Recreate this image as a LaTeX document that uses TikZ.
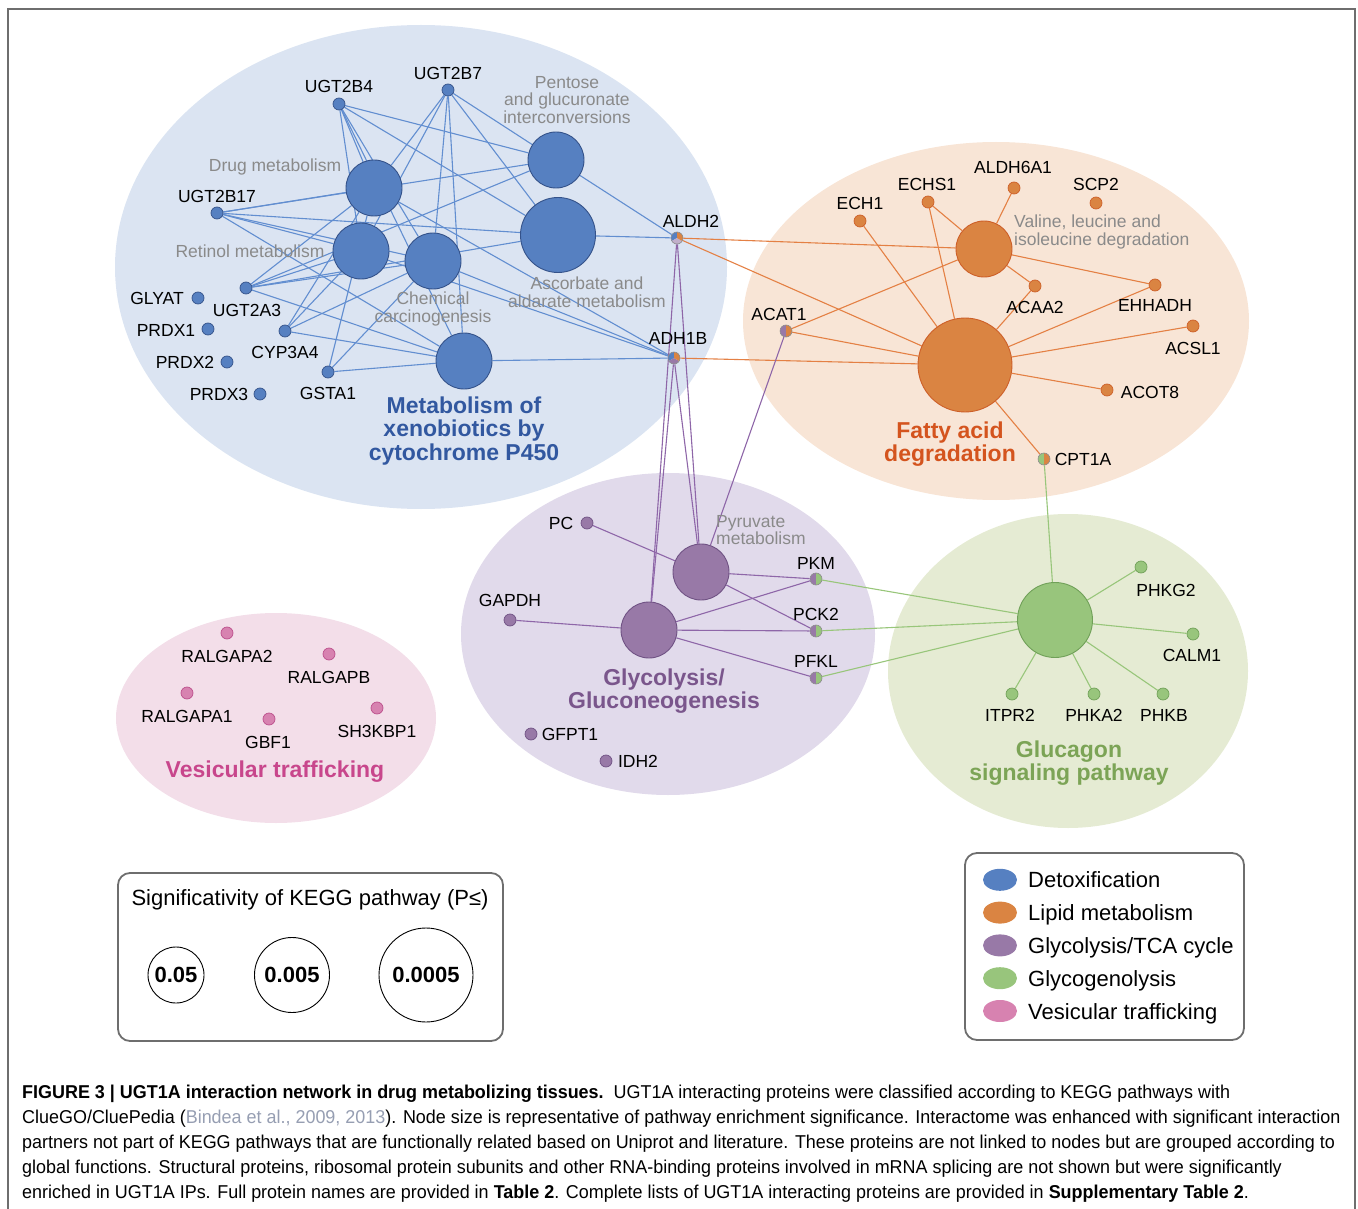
\documentclass[tikz,border=0pt]{standalone}
\usepackage{fontspec}
\setmainfont{Liberation Sans}
\newfontfamily\capfont[FakeStretch=0.965]{Liberation Sans}
\usepackage{tikz}
\usetikzlibrary{shapes.geometric,positioning}
\usepackage{xcolor}
\definecolor{bgBlue}{RGB}{219,228,242}
\definecolor{bgOrange}{RGB}{248,229,214}
\definecolor{bgPurple}{RGB}{225,218,235}
\definecolor{bgGreen}{RGB}{229,235,211}
\definecolor{bgPink}{RGB}{243,222,233}
\definecolor{nBlue}{RGB}{86,128,193}
\definecolor{nBlueD}{RGB}{52,82,138}
\definecolor{nOrange}{RGB}{218,132,66}
\definecolor{nOrangeD}{RGB}{205,95,40}
\definecolor{nPurple}{RGB}{152,121,167}
\definecolor{nPurpleD}{RGB}{112,82,132}
\definecolor{nGreen}{RGB}{152,197,124}
\definecolor{nGreenD}{RGB}{112,160,88}
\definecolor{nPink}{RGB}{215,130,176}
\definecolor{nPinkD}{RGB}{188,80,140}
\definecolor{eBlue}{RGB}{98,142,208}
\definecolor{eOrange}{RGB}{228,128,68}
\definecolor{ePurple}{RGB}{142,102,168}
\definecolor{eGreen}{RGB}{152,198,122}
\definecolor{tGray}{RGB}{138,138,138}
\definecolor{tBlue}{RGB}{50,88,160}
\definecolor{tOrange}{RGB}{212,84,30}
\definecolor{tPurple}{RGB}{122,86,140}
\definecolor{tGreen}{RGB}{124,164,86}
\definecolor{tPink}{RGB}{200,70,140}
\definecolor{cLink}{RGB}{150,158,178}
\definecolor{cFrame}{RGB}{110,110,110}

\newcommand\lblfont{\fontsize{17.5}{17.5}\selectfont}
\newcommand\ttlfont{\fontsize{23}{23.5}\selectfont\bfseries}
\newcommand\keyfont{\fontsize{22}{22}\selectfont}

\pgfdeclarelayer{areas}
\pgfdeclarelayer{links}
\pgfsetlayers{areas,links,main}

\tikzset{
  dot/.style={circle,inner sep=0pt,minimum size=12pt,line width=0.7pt},
  bdot/.style={dot,fill=nBlue,draw=nBlueD},
  odot/.style={dot,fill=nOrange,draw=nOrangeD},
  pdot/.style={dot,fill=nPurple,draw=nPurpleD},
  gdot/.style={dot,fill=nGreen,draw=nGreenD},
  kdot/.style={dot,fill=nPink,draw=nPinkD},
  hubS/.style={circle,inner sep=0pt,minimum size=56pt,line width=0.9pt},
  hubM/.style={hubS,minimum size=75pt},
  hubL/.style={hubS,minimum size=94pt},
  bhub/.style={fill=nBlue,draw=nBlueD},
  ohub/.style={fill=nOrange,draw=nOrangeD},
  phub/.style={fill=nPurple,draw=nPurpleD},
  ghub/.style={fill=nGreen,draw=nGreenD},
  lbl/.style={inner sep=0pt,font=\lblfont,text=black},
  pwlbl/.style={inner sep=0pt,font=\lblfont,text=tGray,align=center},
  grplbl/.style={inner sep=0pt,font=\ttlfont,align=center},
  bedge/.style={draw=eBlue,line width=1.1pt},
  oedge/.style={draw=eOrange,line width=1.1pt},
  pedge/.style={draw=ePurple,line width=1.1pt},
  gedge/.style={draw=eGreen,line width=1.1pt},
  keybox/.style={draw=cFrame,line width=1.8pt,rounded corners=12pt},
  sigcirc/.style={circle,draw=black,line width=0.9pt,inner sep=0pt,
                  font=\keyfont\bfseries},
  keydot/.style={ellipse,inner sep=0pt,minimum width=34pt,minimum height=22pt},
  keytxt/.style={anchor=base west,inner sep=0pt,font=\keyfont}
}

% split dots shared by two or three pathways
\newcommand\halfdot[3]{%
  \fill[#2] (#1.center) -- ++(90:6pt) arc[start angle=90,end angle=270,radius=6pt] -- cycle;
  \fill[#3] (#1.center) -- ++(-90:6pt) arc[start angle=-90,end angle=90,radius=6pt] -- cycle;
  \draw[black!45,line width=0.6pt] (#1.center) circle[radius=6pt];}
\newcommand\tridot[4]{%
  \fill[#2] (#1.center) -- ++(90:6pt) arc[start angle=90,end angle=210,radius=6pt] -- cycle;
  \fill[#3] (#1.center) -- ++(210:6pt) arc[start angle=210,end angle=330,radius=6pt] -- cycle;
  \fill[#4] (#1.center) -- ++(330:6pt) arc[start angle=330,end angle=450,radius=6pt] -- cycle;
  \draw[black!45,line width=0.6pt] (#1.center) circle[radius=6pt];}

\begin{document}
\begin{tikzpicture}[x=1pt,y=-1pt]
  \useasboundingbox (0,0) rectangle (1358,1209);
  \draw[cFrame,line width=2pt] (8,1230) -- (8,9) -- (1355,9) -- (1355,1230);

  \begin{pgfonlayer}{areas}
    \fill[bgBlue]   (421,267) ellipse[x radius=306,y radius=242];
    \fill[bgOrange] (996,321) ellipse[x radius=253,y radius=179];
    \fill[bgPurple] (668,634) ellipse[x radius=207,y radius=161];
    \fill[bgGreen]  (1068,671) ellipse[x radius=180,y radius=157];
    \fill[bgPink]   (276,718) ellipse[x radius=160,y radius=105];
  \end{pgfonlayer}

  % pathway hubs
  \node[hubS,bhub] (hd) at (374,188) {};
  \node[hubS,bhub] (hr) at (361,251) {};
  \node[hubS,bhub] (hc) at (433,261) {};
  \node[hubS,bhub] (hp) at (556,160) {};
  \node[hubM,bhub] (ha) at (558,235) {};
  \node[hubS,bhub] (hx) at (464,361) {};
  \node[hubS,ohub] (hv) at (984,249) {};
  \node[hubL,ohub] (hf) at (965,365) {};
  \node[hubS,phub] (hpy) at (701,572) {};
  \node[hubS,phub] (hg) at (649,630) {};
  \node[hubM,ghub] (hgl) at (1055,620) {};

  % proteins
  \foreach \n/\x/\y/\t/\lx/\ly in {u4/339/104/UGT2B4/339/86, u7/448/90/UGT2B7/448/73,
      u17/217/213/UGT2B17/217/196, ua3/246/288/UGT2A3/247/310,
      cyp/285/331/CYP3A4/285/352, gst/328/372/GSTA1/328/393,
      glyat/198/298/GLYAT/157/298, prdx1/208/329/PRDX1/166/330,
      prdx2/227/362/PRDX2/185/362, prdx3/260/394/PRDX3/219/394}
    \node[bdot] (\n) at (\x,\y) {} node[lbl] (t\n) at (\lx,\ly) {\t};
  \foreach \n/\x/\y/\t/\lx/\ly in {ech1/860/221/ECH1/860/203, echs1/928/202/ECHS1/927/184,
      aldh6/1014/188/ALDH6A1/1013/167, scp2/1096/203/SCP2/1096/184,
      acaa2/1035/286/ACAA2/1035/307, ehhadh/1155/285/EHHADH/1155/305,
      acsl1/1193/326/ACSL1/1193/348, acot8/1107/390/ACOT8/1150/392}
    \node[odot] (\n) at (\x,\y) {} node[lbl] (t\n) at (\lx,\ly) {\t};
  \foreach \n/\x/\y/\t/\lx/\ly in {pc/587/523/PC/561/523, gapdh/510/620/GAPDH/510/600,
      gfpt1/531/734/GFPT1/570/734, idh2/606/761/IDH2/638/761}
    \node[pdot] (\n) at (\x,\y) {} node[lbl] (t\n) at (\lx,\ly) {\t};
  \foreach \n/\x/\y/\t/\lx/\ly in {phkg2/1141/567/PHKG2/1166/590, calm1/1193/634/CALM1/1192/655,
      itpr2/1012/694/ITPR2/1010/715, phka2/1094/694/PHKA2/1094/715,
      phkb/1163/694/PHKB/1164/715}
    \node[gdot] (\n) at (\x,\y) {} node[lbl] (t\n) at (\lx,\ly) {\t};
  \foreach \n/\x/\y/\t/\lx/\ly in {ralgapa2/227/633/RALGAPA2/227/656,
      ralgapb/329/654/RALGAPB/329/677, ralgapa1/187/693/RALGAPA1/187/716,
      gbf1/269/719/GBF1/268/742, sh3kbp1/377/708/SH3KBP1/377/731}
    \node[kdot] (\n) at (\x,\y) {} node[lbl] (t\n) at (\lx,\ly) {\t};
  \foreach \n/\x/\y/\t/\lx/\ly in {aldh2/677/238/ALDH2/691/221, adh1b/674/358/ADH1B/678/338,
      acat1/786/331/ACAT1/779/314, cpt1a/1044/459/CPT1A/1083/459,
      pkm/816/579/PKM/816/563, pck2/816/631/PCK2/816/614, pfkl/816/678/PFKL/816/661}
    \node[dot] (\n) at (\x,\y) {} node[lbl] (t\n) at (\lx,\ly) {\t};

  \tridot{aldh2}{nBlue}{nPurple!60}{nOrange}
  \tridot{adh1b}{nBlue}{nPurple}{nOrange}
  \halfdot{acat1}{nPurple}{nOrange}
  \halfdot{cpt1a}{nGreen}{nOrange}
  \foreach \n in {pkm,pck2,pfkl}{
    \halfdot{\n}{nPurple}{nGreen}
  }

  \begin{pgfonlayer}{links}
    \foreach \f/\t in {u4/hd,u4/hr,u4/hc,u4/hp,u4/ha,u4/hx,u7/hd,u7/hr,u7/hc,u7/hp,u7/ha,u7/hx,
        u17/hd,u17/hr,u17/hc,u17/hp,u17/ha,u17/hx,ua3/hd,ua3/hr,ua3/hc,ua3/hp,ua3/ha,ua3/hx,
        cyp/hd,cyp/hr,cyp/hc,cyp/hx,gst/hd,gst/hc,gst/hx,aldh2/hp,aldh2/ha,
        adh1b/hd,adh1b/hr,adh1b/hc,adh1b/hx}
      \draw[bedge] (\f) -- (\t);
    \foreach \f/\t in {aldh2/hv,aldh2/hf,adh1b/hf,acat1/hv,acat1/hf,ech1/hf,echs1/hv,echs1/hf,
        aldh6/hv,acaa2/hv,acaa2/hf,ehhadh/hv,ehhadh/hf,acsl1/hf,acot8/hf,cpt1a/hf}
      \draw[oedge] (\f) -- (\t);
    \foreach \f/\t in {aldh2/hg,aldh2/hpy,adh1b/hg,adh1b/hpy,acat1/hpy,pc/hpy,hpy/pkm,hpy/pck2,
        gapdh/hg,hg/pkm,hg/pck2,hg/pfkl}
      \draw[pedge] (\f) -- (\t);
    \foreach \f/\t in {cpt1a/hgl,pkm/hgl,pck2/hgl,pfkl/hgl,hgl/phkg2,hgl/calm1,hgl/itpr2,
        hgl/phka2,hgl/phkb}
      \draw[gedge] (\f) -- (\t);
  \end{pgfonlayer}

  % pathway names
  \node[pwlbl] (ldrug) at (275,167) {Drug metabolism};
  \node[pwlbl] (lret) at (250,251) {Retinol metabolism};
  \node[pwlbl] (lchem) at (433,309) {Chemical\\carcinogenesis};
  \node[pwlbl] (lpent) at (567,100) {Pentose\\and glucuronate\\interconversions};
  \node[pwlbl] (lasc) at (587,292) {Ascorbate and\\aldarate metabolism};
  \node[pwlbl,align=left,anchor=west] (lval) at (1014,232) {Valine, leucine and\\isoleucine degradation};
  \node[pwlbl,align=left,anchor=west] (lpyr) at (716,530) {Pyruvate\\metabolism};

  \node[grplbl,text=tBlue] (gdetox) at (464,431) {Metabolism of\\xenobiotics by\\cytochrome P450};
  \node[grplbl,text=tOrange] (glipid) at (950,444) {Fatty acid\\degradation};
  \node[grplbl,text=tPurple] (gglyc) at (664,691) {Glycolysis/\\Gluconeogenesis};
  \node[grplbl,text=tGreen] (gglucg) at (1069,763) {Glucagon\\signaling pathway};
  \node[grplbl,text=tPink] (gvesic) at (275,772) {Vesicular trafficking};

  % significance key
  \draw[keybox] (118,873) rectangle (503,1041);
  \node[inner sep=0pt,font=\keyfont] (sigt) at (310,900) {Significativity of KEGG pathway (P≤)};
  \node[sigcirc,minimum size=56pt] (s1) at (176,975) {0.05};
  \node[sigcirc,minimum size=75pt] (s2) at (292,975) {0.005};
  \node[sigcirc,minimum size=94pt] (s3) at (426,975) {0.0005};

  % colour key
  \draw[keybox] (965,853) rectangle (1244,1040);
  \foreach \c/\t [count=\i] in {nBlue/Detoxification,nOrange/Lipid metabolism,
      nPurple/Glycolysis\slash TCA cycle,nGreen/Glycogenolysis,nPink/Vesicular trafficking}
    \node[keydot,fill=\c] (k\i) at (1000,847+\i*32.8) {}
      node[keytxt] (kt\i) at (1028,855+\i*32.8) {\t};

  % caption
  \node[anchor=north west,inner sep=0pt,align=left,
        font=\capfont\fontsize{18.6}{25}\selectfont] (cap) at (22,1085)
    {\textbf{FIGURE 3 | UGT1A interaction network in drug metabolizing tissues.}\ \ UGT1A interacting proteins were classified according to KEGG pathways with\\
     ClueGO/CluePedia ({\color{cLink}Bindea et al., 2009, 2013}). Node size is representative of pathway enrichment significance. Interactome was enhanced with significant interaction\\
     partners not part of KEGG pathways that are functionally related based on Uniprot and literature. These proteins are not linked to nodes but are grouped according to\\
     global functions. Structural proteins, ribosomal protein subunits and other RNA-binding proteins involved in mRNA splicing are not shown but were significantly\\
     enriched in UGT1A IPs. Full protein names are provided in \textbf{Table 2}. Complete lists of UGT1A interacting proteins are provided in \textbf{Supplementary Table 2}.};
\end{tikzpicture}
\end{document}
